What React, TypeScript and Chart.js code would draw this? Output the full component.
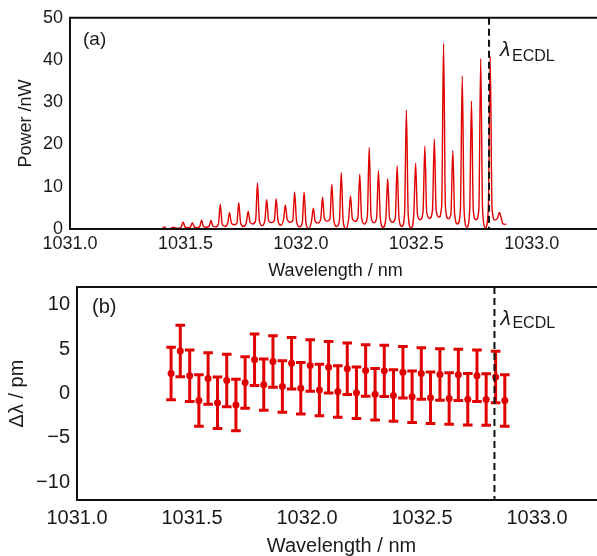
import React, { useEffect, useRef } from "react";
import { Chart, registerables } from "chart.js";

Chart.register(...registerables);

const FONT = "'Liberation Sans', Arial, sans-serif";
const RED = "#e00000";
const INK = "#1a1a1a";

// ---- axes ----
const wavelengthRange = [1031.0, 1033.3];
const wavelengthTicks = [1031.0, 1031.5, 1032.0, 1032.5, 1033.0];
const powerRange = [0, 50];
const powerTicks = [0, 10, 20, 30, 40, 50];
const shiftRange = [-12, 12];
const shiftTicks = [-10, -5, 0, 5, 10];

// ---- panel (a): spectrum ----
const modeWavelength = [
  1031.409, 1031.449, 1031.49, 1031.53, 1031.57, 1031.611, 1031.651, 1031.691,
  1031.731, 1031.772, 1031.812, 1031.852, 1031.893, 1031.933, 1031.973, 1032.014,
  1032.054, 1032.094, 1032.134, 1032.175, 1032.215, 1032.255, 1032.296, 1032.336,
  1032.376, 1032.417, 1032.457, 1032.497, 1032.537, 1032.578, 1032.618, 1032.658,
  1032.699, 1032.739, 1032.779, 1032.82, 1032.86,
];
const peakPower = [
  0.5, 0.4, 1.65, 1.5, 2.1, 2.0, 5.9, 3.85, 6.2, 4.2, 10.9, 7.0, 7.15, 5.7, 8.8, 8.7,
  4.9, 7.5, 10.6, 13.4, 7.8, 13.0, 19.3, 13.8, 11.9, 14.9, 28.1, 15.6, 19.6, 21.3,
  43.9, 18.6, 36.2, 30.3, 40.3, 40.8, 3.9,
];
const footPower = [
  0.15, 0.25, 0.5, 0.5, 0.6, 0.7, 1.2, 1.4, 1.4, 1.6, 2.0, 2.0, 2.0, 2.2, 2.0, 1.4,
  1.8, 2.4, 2.4, 2.0, 2.4, 2.6, 3.0, 2.6, 2.6, 2.6, 3.4, 3.4, 4.0, 4.4, 5.6, 3.6,
  4.4, 4.2, 4.6, 5.0, 2.6,
];
const valleyPower = [
  0.1, 0.2, 0.3, 0.3, 0.4, 0.5, 0.6, 1.0, 0.6, 1.2, 0.8, 1.5, 0.9, 1.6, 0.5, 0.1,
  1.4, 1.8, 0.6, 0.1, 1.8, 1.2, 1.5, 0.4, 1.6, 0.6, 0.2, 2.2, 2.5, 2.8, 2.4, 1.2,
  0.4, 2.2, 0.3, 2.1, 1.2,
];
const spectrumEdgeWavelength = [1031.39, 1032.89];
const spectrumEdgePower = [0.05, 1.1];

// ---- panel (b): wavelength shift per mode ----
const shiftValue = [
  2.25, 4.8, 2.0, -0.8, 1.7, -1.05, 1.46, -1.3, 1.24, 3.8, 1.0, 3.6, 0.8, 3.4, 0.6,
  3.15, 0.4, 2.96, 0.22, 2.8, 0.08, 2.6, -0.08, 2.55, -0.22, 2.4, -0.37, 2.25,
  -0.48, 2.13, -0.56, 2.1, -0.64, 2.0, -0.67, 1.87, -0.8,
];
const shiftError = [
  2.95, 2.9, 2.9, 2.9, 2.9, 2.9, 2.95, 2.9, 2.9, 2.9, 2.9, 2.9, 2.9, 2.9, 2.9, 2.9,
  2.9, 2.9, 2.9, 2.9, 2.9, 2.9, 2.9, 2.9, 2.9, 2.9, 2.9, 2.9, 2.9, 2.9, 2.9, 2.9,
  2.9, 2.9, 2.9, 2.9, 2.9,
];
const ecdlWavelength = 1032.815;

const FOOT_OFFSET = 0.008;

function buildSpectrum() {
  const pts: { x: number; y: number }[] = [];
  pts.push({ x: spectrumEdgeWavelength[0], y: spectrumEdgePower[0] });
  const n = modeWavelength.length;
  for (let i = 0; i < n; i++) {
    const w = modeWavelength[i];
    pts.push({ x: w - FOOT_OFFSET, y: footPower[i] });
    pts.push({ x: w, y: peakPower[i] });
    pts.push({ x: w + FOOT_OFFSET, y: footPower[i] });
    const next = i < n - 1 ? modeWavelength[i + 1] : spectrumEdgeWavelength[1];
    pts.push({ x: (w + next) / 2, y: valleyPower[i] });
  }
  pts.push({ x: spectrumEdgeWavelength[1], y: spectrumEdgePower[1] });
  return pts;
}

const errorBars = {
  id: "errorBars",
  beforeDatasetsDraw(chart: any) {
    const { ctx, scales } = chart;
    const x = scales.x;
    const y = scales.y;
    ctx.save();
    ctx.strokeStyle = RED;
    ctx.lineWidth = 3;
    modeWavelength.forEach((w, i) => {
      const px = x.getPixelForValue(w);
      const y1 = y.getPixelForValue(shiftValue[i] + shiftError[i]);
      const y2 = y.getPixelForValue(shiftValue[i] - shiftError[i]);
      ctx.beginPath();
      ctx.moveTo(px, y1);
      ctx.lineTo(px, y2);
      ctx.moveTo(px - 4.8, y1);
      ctx.lineTo(px + 4.8, y1);
      ctx.moveTo(px - 4.8, y2);
      ctx.lineTo(px + 4.8, y2);
      ctx.stroke();
    });
    ctx.restore();
  },
};

function decorations(opts: {
  panel: string;
  panelFont: number;
  panelDx: number;
  panelDy: number;
  lamDx: number;
  lamDy: number;
  subDx: number;
  subDy: number;
}) {
  return {
    id: "decor",
    afterDatasetsDraw(chart: any) {
      const { ctx, chartArea: a, scales } = chart;
      const px = scales.x.getPixelForValue(ecdlWavelength);
      ctx.save();
      // dashed ECDL line
      ctx.strokeStyle = "#111";
      ctx.lineWidth = 2;
      ctx.setLineDash([7, 4]);
      ctx.beginPath();
      ctx.moveTo(px, a.top);
      ctx.lineTo(px, a.bottom);
      ctx.stroke();
      ctx.setLineDash([]);
      // frame
      ctx.strokeStyle = "#111";
      ctx.lineWidth = 2;
      ctx.beginPath();
      ctx.moveTo(a.right + 10, a.top);
      ctx.lineTo(a.left, a.top);
      ctx.lineTo(a.left, a.bottom);
      ctx.lineTo(a.right + 10, a.bottom);
      ctx.stroke();
      // texts
      ctx.fillStyle = INK;
      ctx.textAlign = "left";
      ctx.textBaseline = "alphabetic";
      ctx.font = `${opts.panelFont}px ${FONT}`;
      ctx.fillText(opts.panel, a.left + opts.panelDx, a.top + opts.panelDy);
      ctx.font = `italic 21px ${FONT}`;
      ctx.fillText("λ", px + opts.lamDx, a.top + opts.lamDy);
      ctx.font = `16px ${FONT}`;
      ctx.fillText("ECDL", px + opts.subDx, a.top + opts.subDy);
      ctx.restore();
    },
  };
}

function axisX(size: number, padding: number, height: number) {
  return {
    type: "linear",
    min: wavelengthRange[0],
    max: wavelengthRange[1],
    grid: { display: false, drawTicks: false },
    border: { display: false },
    afterBuildTicks: (s: any) => {
      s.ticks = wavelengthTicks.map((v) => ({ value: v }));
    },
    ticks: {
      font: { family: FONT, size },
      color: INK,
      padding,
      maxRotation: 0,
      autoSkip: false,
      callback: (v: any) => Number(v).toFixed(1),
    },
    title: {
      display: true,
      text: "Wavelength / nm",
      font: { family: FONT, size, lineHeight: 1 },
      color: INK,
      padding: 0,
    },
    afterFit: (s: any) => {
      s.height = height;
    },
  };
}

function axisY(
  range: number[],
  ticks: number[],
  label: string,
  size: number,
  width: number,
  titlePad: number
) {
  return {
    type: "linear",
    min: range[0],
    max: range[1],
    grid: { display: false, drawTicks: false },
    border: { display: false },
    afterBuildTicks: (s: any) => {
      s.ticks = ticks.map((v) => ({ value: v }));
    },
    ticks: {
      font: { family: FONT, size },
      color: INK,
      padding: 7,
      autoSkip: false,
      callback: (v: any) => String(v).replace("-", "\u2212"),
    },
    title: {
      display: true,
      text: label,
      font: { family: FONT, size, lineHeight: 1 },
      color: INK,
      padding: { top: titlePad, bottom: 0 },
    },
    afterFit: (s: any) => {
      s.width = width;
    },
  };
}

export default function App() {
  const topRef = useRef<HTMLCanvasElement>(null);
  const botRef = useRef<HTMLCanvasElement>(null);

  useEffect(() => {
    document.body.style.margin = "0";
    document.body.style.overflow = "hidden";

    const top = new Chart(topRef.current as HTMLCanvasElement, {
      type: "line",
      data: {
        datasets: [
          {
            data: buildSpectrum(),
            borderColor: RED,
            borderWidth: 1.4,
            pointRadius: 0,
            fill: false,
            cubicInterpolationMode: "monotone",
          },
        ],
      },
      options: {
        animation: false,
        responsive: false,
        layout: { padding: { top: 17, left: 0, right: 0, bottom: 0 } },
        plugins: { legend: { display: false }, tooltip: { enabled: false } },
        scales: {
          x: axisX(18, 4, 51) as any,
          y: axisY(powerRange, powerTicks, "Power /nW", 18, 70, 17) as any,
        },
      },
      plugins: [
        decorations({
          panel: "(a)",
          panelFont: 19,
          panelDx: 13,
          panelDy: 27,
          lamDx: 11,
          lamDy: 38,
          subDx: 23,
          subDy: 43,
        }),
      ],
    } as any);

    const bot = new Chart(botRef.current as HTMLCanvasElement, {
      type: "scatter",
      data: {
        datasets: [
          {
            data: modeWavelength.map((w, i) => ({ x: w, y: shiftValue[i] })),
            pointRadius: 3.5,
            pointBackgroundColor: RED,
            pointBorderWidth: 0,
            showLine: false,
          },
        ],
      },
      options: {
        animation: false,
        responsive: false,
        layout: { padding: { top: 20, left: 0, right: 0, bottom: 0 } },
        plugins: { legend: { display: false }, tooltip: { enabled: false } },
        scales: {
          x: axisX(20, 6, 56) as any,
          y: axisY(shiftRange, shiftTicks, "\u0394\u03bb / pm", 20, 77, 7) as any,
        },
      },
      plugins: [
        errorBars,
        decorations({
          panel: "(b)",
          panelFont: 20,
          panelDx: 15,
          panelDy: 26,
          lamDx: 6,
          lamDy: 38,
          subDx: 18,
          subDy: 41,
        }),
      ],
    } as any);

    return () => {
      top.destroy();
      bot.destroy();
    };
  }, []);

  return (
    <div
      style={{
        position: "relative",
        width: 597,
        height: 556,
        overflow: "hidden",
        background: "#fff",
      }}
    >
      <canvas
        ref={topRef}
        width={601}
        height={280}
        style={{ position: "absolute", left: 0, top: 0 }}
      />
      <canvas
        ref={botRef}
        width={610}
        height={289}
        style={{ position: "absolute", left: 0, top: 267 }}
      />
    </div>
  );
}
